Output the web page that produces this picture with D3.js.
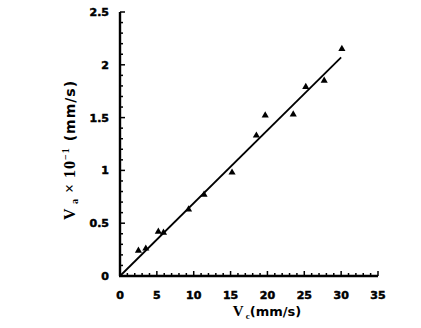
<!DOCTYPE html>
<html><head><meta charset="utf-8">
<script src="https://cdn.jsdelivr.net/npm/d3@7"></script>
<style>body{margin:0;background:#fff}svg{display:block}</style>
</head><body>
<script>
const xValues = [2.5, 3.5, 5.2, 5.9, 9.3, 11.4, 15.2, 18.5, 19.7, 23.5, 25.2, 27.7, 30.1];
const yValues = [0.24, 0.26, 0.42, 0.41, 0.63, 0.77, 0.98, 1.33, 1.52, 1.53, 1.79, 1.85, 2.15];
const lineX = [0, 30];
const lineY = [0, 2.07];
const xTicks = [0, 5, 10, 15, 20, 25, 30, 35];
const yTicks = [0, 0.5, 1, 1.5, 2, 2.5];
const xTickLabels = ["0", "5", "10", "15", "20", "25", "30", "35"];
const yTickLabels = ["0", "0.5", "1", "1.5", "2", "2.5"];

const W = 421, H = 328;
const svg = d3.select("body").append("svg").attr("width", W).attr("height", H);
const x = d3.scaleLinear().domain([0, 35]).range([120, 378]);
const y = d3.scaleLinear().domain([0, 2.5]).range([276, 12]);
const font = "'DejaVu Sans', Arial, sans-serif";

// axis lines
svg.append("line").attr("x1", x(0)).attr("x2", x(0)).attr("y1", y(2.5)).attr("y2", y(0))
  .attr("stroke", "#000").attr("stroke-width", 2.4);
svg.append("line").attr("x1", x(0) - 1).attr("x2", x(35)).attr("y1", y(0)).attr("y2", y(0))
  .attr("stroke", "#000").attr("stroke-width", 2.4);

// y ticks
const yMinor = d3.range(0, 26).map(i => i / 10);
svg.append("g").selectAll("line").data(yMinor).join("line")
  .attr("x1", x(0)).attr("x2", (d, i) => x(0) + (i % 5 === 0 ? 5 : 3))
  .attr("y1", d => y(d)).attr("y2", d => y(d))
  .attr("stroke", "#000").attr("stroke-width", 1.5);
// x ticks
const xMinor = d3.range(0, 36);
svg.append("g").selectAll("line").data(xMinor).join("line")
  .attr("x1", d => x(d)).attr("x2", d => x(d))
  .attr("y1", y(0)).attr("y2", (d, i) => y(0) - (i % 5 === 0 ? 5 : 3))
  .attr("stroke", "#000").attr("stroke-width", 1.5);

// tick labels
svg.append("g").selectAll("text").data(yTicks).join("text")
  .attr("x", x(0) - 11).attr("y", d => y(d) + 4)
  .attr("text-anchor", "end").attr("font-family", font).attr("font-weight", "bold")
  .attr("stroke", "#000").attr("stroke-width", 0.5)
  .attr("font-size", 11).text((d, i) => yTickLabels[i]);
svg.append("g").selectAll("text").data(xTicks).join("text")
  .attr("x", d => x(d)).attr("y", 299)
  .attr("text-anchor", "middle").attr("font-family", font).attr("font-weight", "bold")
  .attr("stroke", "#000").attr("stroke-width", 0.5)
  .attr("font-size", 11).text((d, i) => xTickLabels[i]);

// fitted line
const line = d3.line().x(d => x(d[0])).y(d => y(d[1]));
svg.append("path").datum(lineX.map((v, i) => [v, lineY[i]]))
  .attr("d", line).attr("fill", "none").attr("stroke", "#000").attr("stroke-width", 1.8);

// points
const tri = d3.symbol().type(d3.symbolTriangle).size(22);
svg.append("g").selectAll("path").data(xValues).join("path")
  .attr("transform", (d, i) => `translate(${x(d)},${y(yValues[i])})`)
  .attr("d", tri).attr("fill", "#000");

// axis titles
const xt = svg.append("text").attr("x", 267).attr("y", 316).attr("text-anchor", "middle")
  .attr("font-family", "'Liberation Serif', serif").attr("font-weight", "bold").attr("font-size", 15);
xt.append("tspan").text("V");
xt.append("tspan").attr("font-size", 9).attr("dy", 3).text(" c");
xt.append("tspan").attr("dy", -3).attr("font-family", font).attr("font-size", 13).text("(mm/s)");

const yt = svg.append("text").attr("transform", `translate(75,150) rotate(-90)`).attr("text-anchor", "middle")
  .attr("font-family", "'Liberation Serif', serif").attr("font-weight", "bold").attr("font-size", 16)
  .attr("letter-spacing", 1);
yt.append("tspan").text("V");
yt.append("tspan").attr("font-size", 10).attr("dy", 3).text(" a");
yt.append("tspan").attr("dy", -3).text(" × 10");
yt.append("tspan").attr("font-size", 10).attr("dy", -6).text("−1");
yt.append("tspan").attr("dy", 6).attr("font-family", font).attr("font-size", 14).text(" (mm/s)");
</script>
</body></html>
